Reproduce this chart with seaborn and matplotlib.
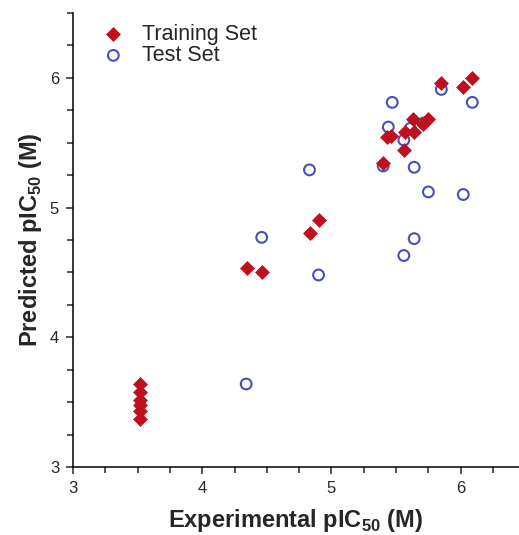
import numpy as np
import pandas as pd
import matplotlib.pyplot as plt
import seaborn as sns
from matplotlib.ticker import MultipleLocator

# data
train_exp = [3.52, 3.52, 3.52, 3.52, 3.52, 3.52, 4.35, 4.46, 4.83, 4.90,
             5.40, 5.43, 5.46, 5.56, 5.57, 5.63, 5.64, 5.71, 5.75, 5.85, 6.02, 6.09]
train_pred = [3.64, 3.58, 3.52, 3.48, 3.43, 3.37, 4.53, 4.50, 4.80, 4.90,
              5.34, 5.54, 5.55, 5.44, 5.58, 5.68, 5.58, 5.64, 5.68, 5.96, 5.93, 6.00]
test_exp = [4.34, 4.46, 4.83, 4.90, 5.40, 5.44, 5.47, 5.56, 5.56, 5.61,
            5.64, 5.64, 5.71, 5.75, 5.85, 6.02, 6.09]
test_pred = [3.64, 4.77, 5.29, 4.48, 5.32, 5.62, 5.81, 5.52, 4.63, 5.61,
             5.31, 4.76, 5.65, 5.12, 5.91, 5.10, 5.81]

train_df = pd.DataFrame({'exp': train_exp, 'pred': train_pred})
test_df = pd.DataFrame({'exp': test_exp, 'pred': test_pred})

sns.set_style('ticks')
plt.rcParams['font.family'] = ['Liberation Sans', 'DejaVu Sans']
plt.rcParams['mathtext.fontset'] = 'custom'
plt.rcParams['mathtext.rm'] = 'Liberation Sans'
plt.rcParams['mathtext.bf'] = 'Liberation Sans:bold'

fig = plt.figure(figsize=(5.19, 5.35), dpi=100)
ax = fig.add_axes([0.1407, 0.127, 0.859, 0.849])

sns.scatterplot(data=test_df, x='exp', y='pred', ax=ax, marker='o', s=60,
                facecolors='none', edgecolor='#4a50b4', linewidth=1.5,
                label='Test Set', zorder=2)
sns.scatterplot(data=train_df, x='exp', y='pred', ax=ax, marker='D', s=50,
                color='#c0101e', edgecolor='#c0101e', linewidth=0.5,
                label='Training Set', zorder=3)

ax.set_xlim(3, 6.45)
ax.set_ylim(3, 6.5)
ax.xaxis.set_major_locator(MultipleLocator(1))
ax.xaxis.set_minor_locator(MultipleLocator(0.25))
ax.yaxis.set_major_locator(MultipleLocator(1))
ax.yaxis.set_minor_locator(MultipleLocator(0.25))
ax.tick_params(which='major', length=5, width=1.1, labelsize=12, direction='out', pad=5)
ax.tick_params(which='minor', length=4, width=1.1, direction='out')
for s in ['left', 'bottom']:
    ax.spines[s].set_linewidth(1.1)
    ax.spines[s].set_color('black')
sns.despine(ax=ax)

ax.set_xlabel(r'Experimental pIC$_\mathbf{50}$ (M)', fontsize=17, fontweight='bold', labelpad=8)
ax.set_ylabel(r'Predicted pIC$_\mathbf{50}$ (M)', fontsize=17, fontweight='bold', labelpad=4)

handles, labels = ax.get_legend_handles_labels()
ax.legend(handles[::-1], labels[::-1], loc='upper left', bbox_to_anchor=(0.018, 1.0),
          frameon=False, fontsize=15.5, handletextpad=0.35, labelspacing=0.02,
          borderaxespad=0.1)

fig.savefig('out.png', dpi=100)
